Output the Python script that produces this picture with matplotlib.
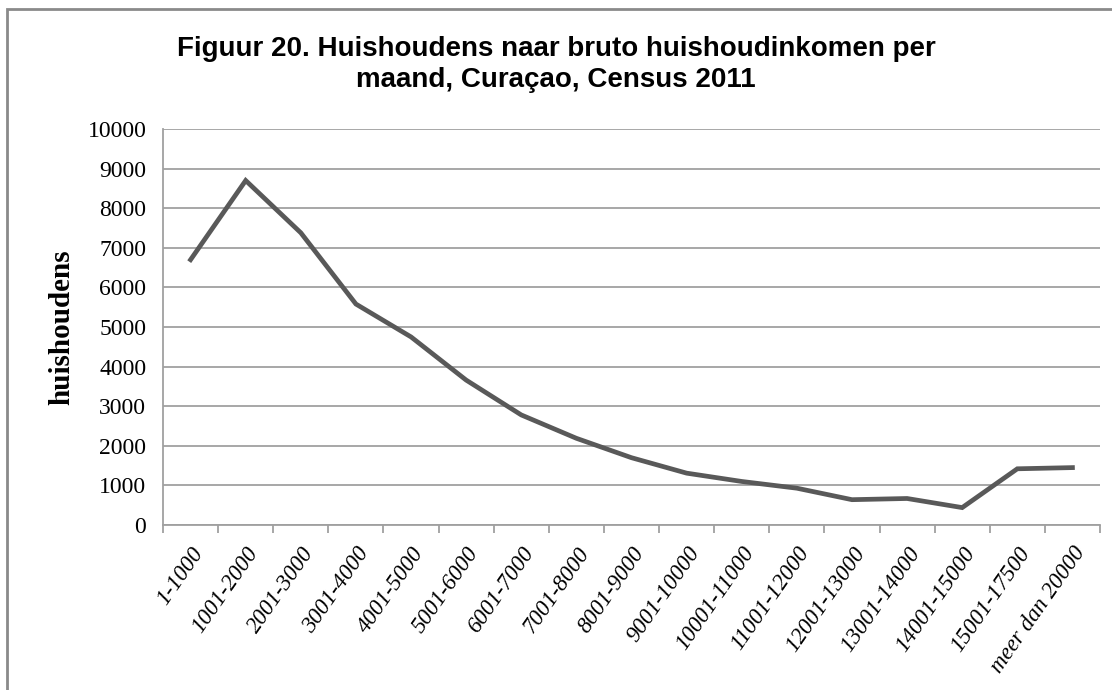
import matplotlib
matplotlib.use("Agg")
import matplotlib.pyplot as plt
from matplotlib.patches import Rectangle
import numpy as np

categories = ['1-1000', '1001-2000', '2001-3000', '3001-4000', '4001-5000',
              '5001-6000', '6001-7000', '7001-8000', '8001-9000', '9001-10000',
              '10001-11000', '11001-12000', '12001-13000', '13001-14000',
              '14001-15000', '15001-17500', 'meer dan 20000']
households = [6700, 8700, 7380, 5580, 4750, 3660, 2780, 2190, 1700, 1310,
              1100, 930, 640, 670, 440, 1420, 1450]
y_ticks = list(range(0, 10001, 1000))

title = 'Figuur 20. Huishoudens naar bruto huishoudinkomen per\nmaand, Curaçao, Census 2011'
ylabel = 'huishoudens'

line_color = '#595959'
grid_color = '#a0a0a0'
serif = ['Liberation Serif', 'DejaVu Serif']

fig = plt.figure(figsize=(11.12, 6.9), dpi=100)
ax = fig.add_axes([0.1466, 0.2391, 0.9892 - 0.1466, 0.813 - 0.2391])

x = np.arange(len(categories))
ax.plot(x, households, color=line_color, linewidth=3.4, solid_joinstyle='miter')

ax.set_xlim(-0.5, len(categories) - 0.5)
ax.set_ylim(0, 10000)
ax.set_yticks(y_ticks)
ax.set_yticklabels([str(v) for v in y_ticks], fontfamily=serif, fontsize=17)
ax.yaxis.grid(True, color=grid_color, linewidth=1.3)
ax.set_axisbelow(True)

# category labels centred, tick marks on category boundaries
ax.set_xticks(x)
ax.set_xticklabels(categories, rotation=55, ha='right', rotation_mode='anchor',
                   fontfamily=serif, fontstyle='italic', fontsize=16.5)
ax.tick_params(axis='x', length=0, pad=13)
ax.set_xticks(np.arange(len(categories) + 1) - 0.5, minor=True)
ax.tick_params(axis='x', which='minor', length=6, color=grid_color, width=1.3)
ax.tick_params(axis='y', length=0, pad=12)

for side in ['top', 'right']:
    ax.spines[side].set_visible(False)
for side in ['left', 'bottom']:
    ax.spines[side].set_color(grid_color)
    ax.spines[side].set_linewidth(1.3)

ax.set_ylabel(ylabel, fontfamily=serif, fontweight='bold', fontsize=21, labelpad=9)

fig.text(0.5, 0.906, title, ha='center', va='center', fontfamily='Liberation Sans',
         fontweight='bold', fontsize=20, linespacing=1.25)

# outer chart-area border (right and bottom run past the image)
fig.patches.append(Rectangle((7 / 1112, -0.05), 1.2, 1 - 9 / 690 + 0.05,
                             transform=fig.transFigure, fill=False,
                             edgecolor='#8a8a8a', linewidth=2))

fig.savefig('out.png', dpi=100)
